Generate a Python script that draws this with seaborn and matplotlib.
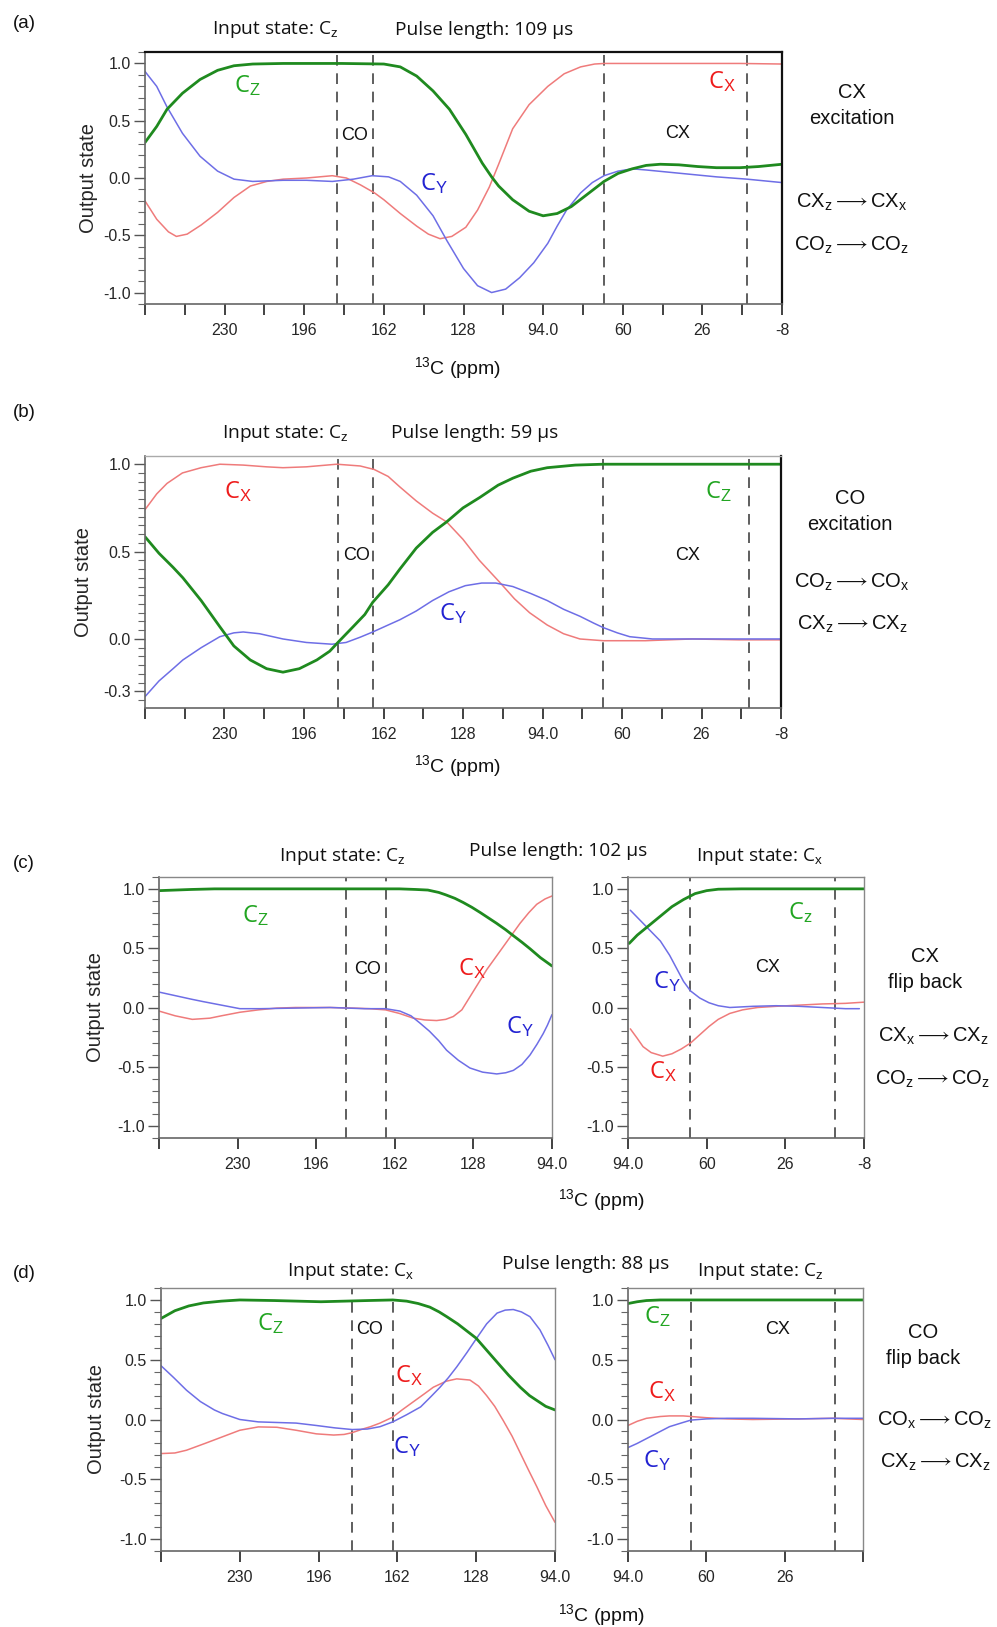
import matplotlib
matplotlib.use("Agg")
import matplotlib.pyplot as plt
import seaborn as sns
from matplotlib.ticker import FixedLocator, FixedFormatter, MultipleLocator

# ---------------- data ----------------
# panel (a): input Cz, pulse 109 us
a_cz_ppm = [264, 259, 254.6, 248, 240.5, 233, 226, 218, 205, 180, 162, 155, 148, 141, 134, 127, 120, 116,
            113, 107, 100, 94, 88, 82, 75, 68, 62, 56, 50, 44, 36, 28, 20, 10, 2, -8]
a_cz_val = [0.31, 0.45, 0.60, 0.74, 0.86, 0.94, 0.98, 0.995, 1.0, 1.0, 0.995, 0.97, 0.89, 0.76, 0.60, 0.38, 0.13,
            0.01, -0.07, -0.19, -0.29, -0.33, -0.31, -0.25, -0.14, -0.03, 0.04, 0.08, 0.11, 0.12, 0.115, 0.10,
            0.09, 0.09, 0.10, 0.12]
a_cy_ppm = [264, 259, 254.6, 248, 240.5, 233, 226, 218, 205, 195, 184, 175, 167, 160, 155, 148, 141, 135, 128,
            122, 116, 110, 104, 98, 92, 88, 84, 78, 73, 68, 62, 56, 50, 40, 30, 20, 7, -8]
a_cy_val = [0.93, 0.80, 0.62, 0.39, 0.19, 0.06, -0.01, -0.03, -0.02, -0.02, -0.03, -0.01, 0.02, 0.01, -0.03,
            -0.15, -0.33, -0.55, -0.79, -0.94, -1.0, -0.97, -0.87, -0.74, -0.57, -0.42, -0.28, -0.13, -0.04,
            0.02, 0.06, 0.08, 0.07, 0.05, 0.03, 0.01, -0.01, -0.04]
a_cx_ppm = [264, 259, 254, 250.6, 246, 240, 233, 226, 219, 212, 205, 195, 184, 178, 172, 166, 162, 155, 148,
            143, 138, 133, 127, 122, 117, 113, 107, 100, 92, 85, 78, 72, 68, 40, 10, -8]
a_cx_val = [-0.20, -0.36, -0.47, -0.51, -0.49, -0.41, -0.30, -0.17, -0.07, -0.03, -0.01, 0.0, 0.02, 0.0,
            -0.06, -0.13, -0.19, -0.31, -0.42, -0.49, -0.53, -0.51, -0.43, -0.28, -0.08, 0.12, 0.43, 0.64,
            0.80, 0.91, 0.97, 0.995, 1.0, 1.0, 1.0, 0.995]

# panel (b): input Cz, pulse 59 us
b_cx_ppm = [264, 259, 254.6, 248, 240, 232, 222, 212, 205, 195, 182, 172, 166, 160, 155, 148, 141, 135, 128,
            121, 112, 106, 99.5, 92, 85, 78, 68, 50, 30, 10, -8]
b_cx_val = [0.74, 0.83, 0.89, 0.95, 0.98, 1.0, 0.995, 0.985, 0.98, 0.985, 1.0, 0.99, 0.97, 0.93, 0.87, 0.79,
            0.72, 0.67, 0.57, 0.45, 0.32, 0.23, 0.15, 0.08, 0.03, 0.0, -0.01, -0.01, 0.0, -0.005, -0.005]
b_cz_ppm = [264, 258, 252, 247.8, 240, 232, 226, 219, 212, 205, 198, 190.5, 185, 181.5, 175, 170, 166.6, 160,
            155, 148, 141, 135, 128, 120.8, 113, 106.7, 99, 92, 80, 68, 30, -8]
b_cz_val = [0.585, 0.49, 0.41, 0.35, 0.22, 0.07, -0.04, -0.12, -0.17, -0.19, -0.17, -0.12, -0.07, -0.02,
            0.07, 0.14, 0.21, 0.31, 0.40, 0.52, 0.61, 0.67, 0.75, 0.81, 0.88, 0.92, 0.96, 0.98, 0.995, 1.0,
            1.0, 1.0]
b_cy_ppm = [264, 258, 252, 247.8, 240, 232, 226, 222, 215, 205, 195, 184, 178, 172, 166.6, 160, 155, 148, 141,
            134, 127, 120, 114, 106.7, 99, 92, 85, 78, 72, 68, 62, 56.7, 47, 30, 10, -8]
b_cy_val = [-0.33, -0.24, -0.17, -0.12, -0.05, 0.013, 0.035, 0.04, 0.03, 0.0, -0.02, -0.03, -0.02, 0.01, 0.04,
            0.08, 0.11, 0.16, 0.22, 0.27, 0.305, 0.32, 0.32, 0.30, 0.26, 0.22, 0.17, 0.13, 0.09, 0.065, 0.035,
            0.013, 0.0, 0.0, 0.0, 0.0]

# panel (c) left: input Cz ; right: input Cx ; pulse 102 us
cl_cz_ppm = [264, 250, 240, 200, 160, 153, 147.7, 143, 140, 136, 132.4, 128.7, 125, 121.5, 118, 114, 110.7,
             107, 103.5, 99, 94]
cl_cz_val = [0.985, 0.995, 1.0, 1.0, 1.0, 0.995, 0.99, 0.97, 0.95, 0.92, 0.885, 0.845, 0.80, 0.755, 0.71, 0.655,
             0.605, 0.55, 0.495, 0.42, 0.35]
cl_cx_ppm = [264, 257, 249.6, 242, 237, 229, 221, 213, 205, 190, 180, 173, 166, 160, 154, 149, 143.9, 140,
             136.7, 133, 129.5, 126, 122.2, 118.5, 115, 111.5, 107.8, 104, 100.6, 97, 94]
cl_cx_val = [-0.03, -0.07, -0.10, -0.09, -0.07, -0.04, -0.02, -0.005, 0.0, 0.0, -0.005, -0.01, -0.02, -0.05,
             -0.09, -0.105, -0.11, -0.10, -0.076, -0.02, 0.09, 0.20, 0.32, 0.42, 0.515, 0.61, 0.71, 0.80, 0.87,
             0.915, 0.94]
cl_cy_ppm = [264, 257, 250, 245, 237, 229, 220, 205, 190, 175, 166, 159.8, 155, 151.2, 147, 143, 139.6, 134.5,
             129.5, 124, 117.9, 114, 110.7, 107, 103.5, 100.5, 97.8, 96, 94]
cl_cy_val = [0.13, 0.10, 0.07, 0.05, 0.02, -0.01, -0.01, -0.005, 0.0, -0.01, -0.01, -0.03, -0.07, -0.13, -0.20,
             -0.28, -0.36, -0.445, -0.51, -0.545, -0.56, -0.55, -0.53, -0.48, -0.40, -0.31, -0.22, -0.15, -0.06]
cr_cz_ppm = [93.5, 90, 85, 80, 75, 70, 65, 60, 55, 45, 20, -8]
cr_cz_val = [0.54, 0.61, 0.69, 0.77, 0.85, 0.91, 0.96, 0.985, 0.997, 1.0, 1.0, 1.0]
cr_cy_ppm = [93, 88, 84, 80, 76, 73, 70, 67, 63, 59, 55, 50, 40, 30, 20, 10, 0, -6]
cr_cy_val = [0.82, 0.72, 0.64, 0.56, 0.44, 0.33, 0.22, 0.14, 0.08, 0.04, 0.015, 0.0, 0.01, 0.015, 0.01, 0.0,
             -0.01, -0.01]
cr_cx_ppm = [93, 90, 87.5, 84, 79, 75, 71, 67, 63, 59, 55, 50, 44.5, 38, 30, 20, 10, 0, -8]
cr_cx_val = [-0.18, -0.26, -0.33, -0.38, -0.41, -0.39, -0.35, -0.30, -0.23, -0.16, -0.10, -0.05, -0.02, 0.0,
             0.01, 0.02, 0.03, 0.035, 0.045]

# panel (d) left: input Cx ; right: input Cz ; pulse 88 us
dl_cz_ppm = [264, 258, 252, 245.7, 238, 230, 215, 205, 195, 185, 175, 164, 158, 153, 148, 144, 140.7, 136, 132,
             128, 123.5, 119, 114, 109, 105, 101.9, 98, 94]
dl_cz_val = [0.845, 0.91, 0.95, 0.975, 0.99, 1.0, 0.995, 0.99, 0.985, 0.99, 0.995, 1.0, 0.99, 0.97, 0.94, 0.90,
             0.86, 0.80, 0.74, 0.68, 0.58, 0.48, 0.37, 0.27, 0.20, 0.16, 0.11, 0.08]
dl_cy_ppm = [264, 258.5, 253, 247, 241, 237.5, 230, 222, 214, 205.7, 197, 189, 181.5, 175, 169.5, 164, 158, 152,
             147.6, 143.6, 140, 136.4, 132, 127.8, 123.5, 119, 115.5, 112, 108.5, 104.8, 100.5, 97, 94]
dl_cy_val = [0.45, 0.35, 0.245, 0.15, 0.08, 0.05, 0.0, -0.02, -0.025, -0.03, -0.05, -0.07, -0.084, -0.08, -0.06,
             -0.02, 0.04, 0.105, 0.19, 0.27, 0.35, 0.44, 0.56, 0.68, 0.80, 0.89, 0.915, 0.92, 0.90, 0.86, 0.75,
             0.62, 0.50]
dl_cx_ppm = [264, 258, 253, 245, 237.5, 230, 222, 214, 205.7, 197, 189.5, 185, 181.5, 177, 173.6, 169.5, 164,
             160, 155, 150, 146.5, 141, 136.4, 130.7, 127, 123.5, 120, 116.3, 112.5, 109, 105.5, 101.9, 98, 94]
dl_cx_val = [-0.285, -0.28, -0.257, -0.20, -0.145, -0.09, -0.062, -0.065, -0.09, -0.12, -0.13, -0.125, -0.11,
             -0.08, -0.06, -0.03, 0.02, 0.08, 0.15, 0.22, 0.27, 0.32, 0.34, 0.33, 0.28, 0.20, 0.11, -0.01, -0.14,
             -0.28, -0.42, -0.56, -0.72, -0.86]
dr_cz_ppm = [94, 90, 86, 80, 40, -8]
dr_cz_val = [0.97, 0.985, 0.995, 1.0, 1.0, 1.0]
dr_cx_ppm = [94, 90, 86, 80, 76, 70, 66.7, 60, 51, 40, 20, 5, -8]
dr_cx_val = [-0.05, -0.015, 0.01, 0.025, 0.03, 0.03, 0.025, 0.015, 0.005, 0.0, 0.005, 0.01, 0.0]
dr_cy_ppm = [94, 90, 86, 80, 76, 71, 66.7, 60, 51, 40, 20, 5, -8]
dr_cy_val = [-0.235, -0.20, -0.16, -0.10, -0.06, -0.03, -0.005, 0.005, 0.01, 0.01, 0.005, 0.01, 0.01]

# region boundaries (dashed lines)
a_bounds = [182, 166.6, 68, 7]
b_bounds = [181.5, 166.6, 68, 5.5]
c_bounds_left = [183, 166]
c_bounds_right = [67.3, 4.5]
d_bounds_left = [181.5, 164]
d_bounds_right = [66.7, 4.2]

full_ticks = [264, 230, 196, 162, 128, 94, 60, 26, -8]
full_labels = ["", "230", "196", "162", "128", "94.0", "60", "26", "-8"]
full_minor = [247, 213, 179, 145, 111, 77, 43, 9]
left_ticks = [264, 230, 196, 162, 128, 94]
left_labels = ["", "230", "196", "162", "128", "94.0"]
right_ticks = [94, 60, 26, -8]

# ---------------- styling ----------------
sns.set_style("ticks")
plt.rcParams["font.family"] = ["Liberation Sans", "DejaVu Sans"]
plt.rcParams["axes.unicode_minus"] = False
plt.rcParams["mathtext.fontset"] = "custom"
plt.rcParams["mathtext.rm"] = "Liberation Sans"
plt.rcParams["mathtext.it"] = "Liberation Sans"

GREEN, RED, BLUE = "#1f8a1f", "#ef7b7b", "#6e6ee6"
GREEN_T, RED_T, BLUE_T = "#22a522", "#ee1c1c", "#2323d2"
W, H = 997, 1627
HEAD = ["Open Sans", "DejaVu Sans"]
HS = 13.8

fig = plt.figure(figsize=(W / 100, H / 100), dpi=100)


def px_axes(l, t, r, b):
    return fig.add_axes([l / W, 1 - b / H, (r - l) / W, (b - t) / H])


def ptext(x, y, s, size=13, family=None, color="#111", **kw):
    kw.setdefault("ha", "center")
    kw.setdefault("va", "center")
    fig.text(x / W, 1 - y / H, s, fontsize=size, color=color,
             family=family if family else ["Liberation Sans", "DejaVu Sans"], **kw)


def curves(ax, cz, cx, cy):
    sns.lineplot(x=cx[0], y=cx[1], ax=ax, color=RED, linewidth=1.1, estimator=None, sort=False)
    sns.lineplot(x=cy[0], y=cy[1], ax=ax, color=BLUE, linewidth=1.1, estimator=None, sort=False)
    sns.lineplot(x=cz[0], y=cz[1], ax=ax, color=GREEN, linewidth=2.0, estimator=None, sort=False)


def style(ax, xlim, ylim, xt, xl, yt, yl, yminor, xminor=None, ylabel_x=None,
          top="#888", right="#888", top_lw=1.0, right_lw=1.0):
    ax.set_xlim(*xlim)
    ax.set_ylim(*ylim)
    ax.xaxis.set_major_locator(FixedLocator(xt))
    ax.xaxis.set_major_formatter(FixedFormatter(xl))
    if xminor:
        ax.xaxis.set_minor_locator(FixedLocator(xminor))
    ax.yaxis.set_major_locator(FixedLocator(yt))
    ax.yaxis.set_major_formatter(FixedFormatter(yl))
    ax.yaxis.set_minor_locator(MultipleLocator(yminor))
    ax.tick_params(axis="x", which="both", direction="out", length=8, width=1.3, color="#333",
                   labelsize=11.5, pad=6)
    ax.tick_params(axis="y", which="major", direction="out", length=8, width=1.0, color="#555",
                   labelsize=11.5, pad=2)
    ax.tick_params(axis="y", which="minor", direction="out", length=5, width=0.8, color="#666")
    for s in ("left", "bottom"):
        ax.spines[s].set_color("#666")
        ax.spines[s].set_linewidth(1.2)
    ax.spines["top"].set_visible(True)
    ax.spines["right"].set_visible(True)
    ax.spines["top"].set_color(top)
    ax.spines["top"].set_linewidth(top_lw)
    ax.spines["right"].set_color(right)
    ax.spines["right"].set_linewidth(right_lw)
    ax.set_xlabel("")
    ax.set_ylabel("")
    if ylabel_x is not None:
        ax.set_ylabel("Output state", fontsize=14.5)
        ax.yaxis.set_label_coords(ylabel_x, 0.5)


def dashes(ax, xs):
    for x in xs:
        ax.axvline(x, color="#333", lw=1.1, dashes=(7, 5), ymin=0, ymax=1, zorder=1)


yt_full = [1.0, 0.5, 0.0, -0.5, -1.0]
yl_full = ["1.0", "0.5", "0.0", "-0.5", "-1.0"]

# ---------------- (a) ----------------
ax = px_axes(145, 52, 782, 304)
curves(ax, (a_cz_ppm, a_cz_val), (a_cx_ppm, a_cx_val), (a_cy_ppm, a_cy_val))
dashes(ax, a_bounds)
style(ax, (264, -8), (-1.1, 1.1), full_ticks, full_labels, yt_full, yl_full, 0.1, full_minor,
      ylabel_x=(98 - 145) / 637, top="#111", right="#111", top_lw=1.6, right_lw=1.6)
ptext(24, 24, "(a)", 13.5)
ptext(275, 30, r"Input state: C$_\mathrm{z}$", HS, HEAD)
ptext(484, 30, "Pulse length: 109 \u03bcs", HS, HEAD)
ptext(247, 86, r"C$_\mathrm{Z}$", 17, HEAD, GREEN_T)
ptext(355, 135, "CO", 13)
ptext(434, 184, r"C$_\mathrm{Y}$", 17, HEAD, BLUE_T)
ptext(722, 82, r"C$_\mathrm{X}$", 17, HEAD, RED_T)
ptext(678, 133, "CX", 13)
ptext(852, 92, "CX", 14.5)
ptext(852, 118, "excitation", 14.5)
ptext(852, 202, r"CX$_\mathrm{z}\longrightarrow$CX$_\mathrm{x}$", 14.5)
ptext(852, 245, r"CO$_\mathrm{z}\longrightarrow$CO$_\mathrm{z}$", 14.5)
ptext(458, 368, r"$^{13}$C (ppm)", 14)

# ---------------- (b) ----------------
ax = px_axes(145, 456, 781, 708)
curves(ax, (b_cz_ppm, b_cz_val), (b_cx_ppm, b_cx_val), (b_cy_ppm, b_cy_val))
dashes(ax, b_bounds)
style(ax, (264, -8), (-0.395, 1.047), full_ticks, full_labels, [1.0, 0.5, 0.0, -0.3],
      ["1.0", "0.5", "0.0", "-0.3"], 0.05, full_minor, ylabel_x=(93 - 145) / 636,
      top="#aaa", right="#111", top_lw=1.0, right_lw=1.6)
ptext(24, 413, "(b)", 13.5)
ptext(285, 433, r"Input state: C$_\mathrm{z}$", HS, HEAD)
ptext(475, 433, "Pulse length: 59 \u03bcs", HS, HEAD)
ptext(238, 492, r"C$_\mathrm{X}$", 17, HEAD, RED_T)
ptext(357, 555, "CO", 13)
ptext(453, 614, r"C$_\mathrm{Y}$", 17, HEAD, BLUE_T)
ptext(718, 492, r"C$_\mathrm{Z}$", 17, HEAD, GREEN_T)
ptext(688, 555, "CX", 13)
ptext(850, 498, "CO", 14.5)
ptext(850, 524, "excitation", 14.5)
ptext(852, 582, r"CO$_\mathrm{z}\longrightarrow$CO$_\mathrm{x}$", 14.5)
ptext(852, 624, r"CX$_\mathrm{z}\longrightarrow$CX$_\mathrm{z}$", 14.5)
ptext(458, 766, r"$^{13}$C (ppm)", 14)

# ---------------- (c) ----------------
ax = px_axes(159, 877, 552, 1138)
curves(ax, (cl_cz_ppm, cl_cz_val), (cl_cx_ppm, cl_cx_val), (cl_cy_ppm, cl_cy_val))
dashes(ax, c_bounds_left)
style(ax, (264, 94), (-1.1, 1.1), left_ticks, left_labels, yt_full, yl_full, 0.1,
      ylabel_x=(105 - 159) / 393)
ax = px_axes(628, 877, 864, 1138)
curves(ax, (cr_cz_ppm, cr_cz_val), (cr_cx_ppm, cr_cx_val), (cr_cy_ppm, cr_cy_val))
dashes(ax, c_bounds_right)
style(ax, (94, -8), (-1.1, 1.1), right_ticks, ["94.0", "60", "26", "-8"], yt_full, yl_full, 0.1)
ptext(24, 863, "(c)", 13.5)
ptext(342, 857, r"Input state: C$_\mathrm{z}$", HS, HEAD)
ptext(558, 851, "Pulse length: 102 \u03bcs", HS, HEAD)
ptext(760, 857, r"Input state: C$_\mathrm{x}$", HS, HEAD)
ptext(255, 916, r"C$_\mathrm{Z}$", 17, HEAD, GREEN_T)
ptext(368, 970, "CO", 13)
ptext(472, 969, r"C$_\mathrm{X}$", 17, HEAD, RED_T)
ptext(520, 1027, r"C$_\mathrm{Y}$", 17, HEAD, BLUE_T)
ptext(800, 913, r"C$_\mathrm{z}$", 17, HEAD, GREEN_T)
ptext(667, 982, r"C$_\mathrm{Y}$", 17, HEAD, BLUE_T)
ptext(768, 968, "CX", 13)
ptext(663, 1072, r"C$_\mathrm{X}$", 17, HEAD, RED_T)
ptext(925, 957, "CX", 14.5)
ptext(925, 982, "flip back", 14.5)
ptext(933, 1036, r"CX$_\mathrm{x}\longrightarrow$CX$_\mathrm{z}$", 14.5)
ptext(933, 1079, r"CO$_\mathrm{z}\longrightarrow$CO$_\mathrm{z}$", 14.5)
ptext(602, 1200, r"$^{13}$C (ppm)", 14)

# ---------------- (d) ----------------
ax = px_axes(161, 1288, 555, 1551)
curves(ax, (dl_cz_ppm, dl_cz_val), (dl_cx_ppm, dl_cx_val), (dl_cy_ppm, dl_cy_val))
dashes(ax, d_bounds_left)
style(ax, (264, 94), (-1.1, 1.1), left_ticks, left_labels, yt_full, yl_full, 0.1,
      ylabel_x=(106 - 161) / 394)
ax = px_axes(628, 1288, 863, 1551)
curves(ax, (dr_cz_ppm, dr_cz_val), (dr_cx_ppm, dr_cx_val), (dr_cy_ppm, dr_cy_val))
dashes(ax, d_bounds_right)
style(ax, (94, -8), (-1.1, 1.1), right_ticks, ["94.0", "60", "26", ""], yt_full, yl_full, 0.1)
ptext(24, 1273, "(d)", 13.5)
ptext(351, 1272, r"Input state: C$_\mathrm{x}$", HS, HEAD)
ptext(586, 1264, "Pulse length: 88 \u03bcs", HS, HEAD)
ptext(760, 1272, r"Input state: C$_\mathrm{z}$", HS, HEAD)
ptext(270, 1324, r"C$_\mathrm{Z}$", 17, HEAD, GREEN_T)
ptext(370, 1330, "CO", 13)
ptext(409, 1376, r"C$_\mathrm{X}$", 17, HEAD, RED_T)
ptext(407, 1447, r"C$_\mathrm{Y}$", 17, HEAD, BLUE_T)
ptext(657, 1317, r"C$_\mathrm{Z}$", 17, HEAD, GREEN_T)
ptext(778, 1330, "CX", 13)
ptext(662, 1392, r"C$_\mathrm{X}$", 17, HEAD, RED_T)
ptext(657, 1461, r"C$_\mathrm{Y}$", 17, HEAD, BLUE_T)
ptext(923, 1333, "CO", 14.5)
ptext(923, 1359, "flip back", 14.5)
ptext(935, 1420, r"CO$_\mathrm{x}\longrightarrow$CO$_\mathrm{z}$", 14.5)
ptext(935, 1462, r"CX$_\mathrm{z}\longrightarrow$CX$_\mathrm{z}$", 14.5)
ptext(602, 1615, r"$^{13}$C (ppm)", 14)

fig.savefig("out.png", dpi=100)
